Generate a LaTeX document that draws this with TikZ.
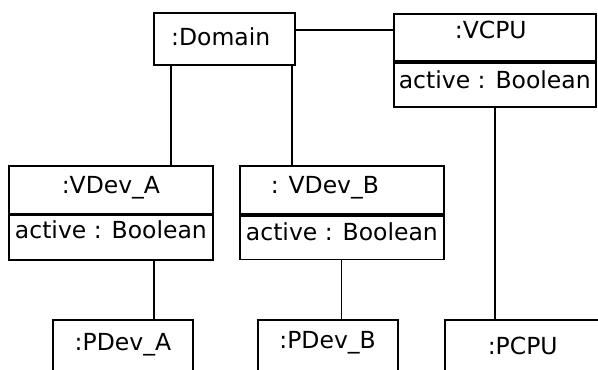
\documentclass[tikz,border=0pt]{standalone}
\usepackage{fontspec}
\setmainfont{DejaVu Sans}
\newfontfamily\objfont{DejaVu Sans}
\begin{document}
\begin{tikzpicture}[x=1pt, y=-1pt,
  objbox/.style={draw, line width=1.8pt, inner sep=0pt, anchor=north west,
    font=\objfont\fontsize{23.5}{28}\selectfont},
  divider/.style={line width=3.4pt},
  link/.style={line width=1.6pt}]
\path[use as bounding box, clip] (0,0) rectangle (598,370);

% object boxes: header compartment, then attribute compartment
\node[objbox, minimum width=141pt, text height=33.3pt, text depth=19.3pt]
  (dom) at (153.3,11.7) {\hspace*{-8pt}:Domain};

\node[objbox, minimum width=202.3pt, text height=24.6pt, text depth=22.7pt]
  (vcpu) at (392.7,12.7) {\hspace*{-8pt}:VCPU};
\node[objbox, minimum width=202.3pt, text height=27.3pt, text depth=18.7pt]
  (vcpuattr) at (392.7,60) {active : Boolean};
\draw[divider] (vcpu.south west) -- (vcpu.south east);

\node[objbox, minimum width=203.4pt, text height=27.3pt, text depth=20.4pt]
  (vdeva) at (8.3,165) {:VDev\_A};
\node[objbox, minimum width=203.4pt, text height=24.6pt, text depth=21.7pt]
  (vdevaattr) at (8.3,212.7) {active : Boolean};
\draw[divider] (vdeva.south west) -- (vdeva.south east);

\node[objbox, minimum width=203.4pt, text height=27.3pt, text depth=20.7pt]
  (vdevb) at (239.3,165) {\hspace*{-34pt}: VDev\_B};
\node[objbox, minimum width=203.4pt, text height=26.3pt, text depth=19.2pt]
  (vdevbattr) at (239.3,213) {active : Boolean};
\draw[divider] (vdevb.south west) -- (vdevb.south east);

\node[objbox, minimum width=140.6pt, text height=31pt, text depth=40pt]
  (pdeva) at (51.7,319) {:PDev\_A};
\node[objbox, minimum width=140pt, text height=28.3pt, text depth=42.7pt]
  (pdevb) at (256.7,319) {:PDev\_B};
\node[objbox, minimum width=155pt, text height=34.3pt, text depth=36.7pt]
  (pcpu) at (444.3,319) {:PCPU};

% links
\path ([yshift=9pt]dom.east) coordinate (dv);
\draw[link] (dv) -- (dv -| vcpu.west);

\path ([xshift=17.7pt]dom.south west) coordinate (da);
\draw[link] (da) -- (da |- vdeva.north);
\path ([xshift=-4.3pt]dom.south east) coordinate (db);
\draw[link] (db) -- (db |- vdevb.north);

\path ([xshift=145.7pt]vdevaattr.south west) coordinate (pa);
\draw[link] (pa) -- (pa |- pdeva.north);
\path ([xshift=102.2pt]vdevbattr.south west) coordinate (pb);
\draw[link] (pb) -- (pb |- pdevb.north);
\path ([xshift=102.3pt]vcpuattr.south west) coordinate (pc);
\draw[link] (pc) -- (pc |- pcpu.north);
\end{tikzpicture}
\end{document}
